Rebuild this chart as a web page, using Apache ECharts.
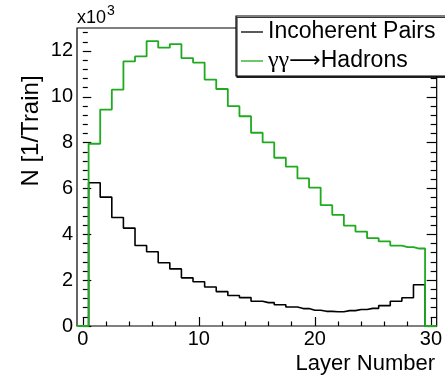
<!DOCTYPE html>
<html><head><meta charset="utf-8">
<script src="https://cdn.jsdelivr.net/npm/echarts@6/dist/echarts.min.js"></script>
<style>html,body{margin:0;padding:0;background:#fff}#c{width:445px;height:382px}</style>
</head><body><div id="c"></div>
<script>
// Layer number (bin centres) and histogram range
const layers = [0,1,2,3,4,5,6,7,8,9,10,11,12,13,14,15,16,17,18,19,20,21,22,23,24,25,26,27,28,29,30];
const xRange = [-0.5, 30.5];
// N [1/Train]
const incoherentPairs = [0, 6250, 5620, 4730, 4270, 3510, 3240, 2760, 2490, 2100, 1930, 1700, 1500, 1330, 1240, 1080, 1020, 930, 830, 760, 690, 640, 620, 670, 720, 770, 890, 1080, 1230, 1800, 0];
const ggHadrons = [0, 7950, 9440, 10310, 11540, 11760, 12430, 12140, 12300, 11690, 11490, 10750, 10340, 9590, 9150, 8430, 8010, 7340, 6950, 6440, 6040, 5270, 4850, 4380, 4120, 3830, 3690, 3510, 3440, 3380, 0];
const seriesNames = ['Incoherent Pairs', 'γγ → Hadrons'];
const xTicks = [0, 10, 20, 30];
const xMinorTicks = [2,4,6,8,12,14,16,18,22,24,26,28];
const yTicks = [0, 2000, 4000, 6000, 8000, 10000, 12000];
const yMinorTicks = [400,800,1200,1600,2400,2800,3200,3600,4400,4800,5200,5600,6400,6800,7200,7600,8400,8800,9200,9600,10400,10800,11200,11600,12400,12800];
const yMax = 13000;

function histData(vals) {
  return [[xRange[0], 0]].concat(layers.map((l, i) => [l, vals[i]])).concat([[xRange[1], 0]]);
}
const FONT = 'Liberation Sans';
const chart = echarts.init(document.getElementById('c'), null, {renderer: 'canvas'});
function xAx(ticks, len, labels) {
  return {type: 'value', min: xRange[0], max: xRange[1], position: 'bottom',
    axisLine: {show: false}, splitLine: {show: false},
    axisTick: {show: true, inside: true, length: len, customValues: ticks, lineStyle: {color: '#000', width: 1.2}},
    axisLabel: labels ? {show: true, customValues: ticks, fontSize: 20, fontFamily: FONT, color: '#000', margin: 3} : {show: false}};
}
function yAx(ticks, len, pos, labels) {
  return {type: 'value', min: 0, max: yMax, position: pos,
    axisLine: {show: false}, splitLine: {show: false},
    axisTick: {show: true, inside: true, length: len, customValues: ticks, lineStyle: {color: '#000', width: 1.2}},
    axisLabel: labels ? {show: true, customValues: ticks, fontSize: 20, fontFamily: FONT, color: '#000', margin: 4,
      formatter: v => String(v / 1000)} : {show: false}};
}
chart.setOption({
  animation: false,
  grid: {left: 77, right: 8, top: 28, bottom: 56, show: true, borderColor: '#000', borderWidth: 1.2, backgroundColor: 'transparent'},
  xAxis: [xAx(xTicks, 9, true), xAx(xMinorTicks, 4.5, false)],
  yAxis: [yAx(yTicks, 8.5, 'left', true), yAx(yMinorTicks, 5, 'left', false),
          yAx(yTicks, 10, 'right', false), yAx(yMinorTicks, 6, 'right', false)],
  legend: {
    orient: 'vertical', left: 236, top: 16, padding: [4, 15, 3, 5], itemGap: 5,
    icon: 'rect', itemWidth: 22, itemHeight: 1.3, backgroundColor: '#fff', borderColor: '#000', borderWidth: 1.2,
    shadowColor: 'rgba(0,0,0,0.8)', shadowOffsetX: 1, shadowOffsetY: 1.5, shadowBlur: 0,
    textStyle: {fontSize: 23, fontFamily: FONT, color: '#000', lineHeight: 24,
      rich: {g: {fontFamily: 'Liberation Serif', fontSize: 24, color: '#000', lineHeight: 24},
             a: {fontFamily: 'DejaVu Sans', fontSize: 22, color: '#000', lineHeight: 24}}},
    formatter: name => name === seriesNames[1] ? '{g|γγ}{a|⟶}Hadrons' : name,
    data: seriesNames
  },
  graphic: [
    {type: 'text', x: 77, y: 18, style: {text: 'x10', fontSize: 18, fontFamily: FONT, fill: '#000', align: 'left', verticalAlign: 'middle'}},
    {type: 'text', x: 107, y: 11, style: {text: '3', fontSize: 14, fontFamily: FONT, fill: '#000', align: 'left', verticalAlign: 'middle'}},
    {type: 'text', x: 435, y: 364, style: {text: 'Layer Number', fontSize: 22, fontFamily: FONT, fill: '#000', align: 'right', verticalAlign: 'middle'}},
    {type: 'text', x: 31, y: 131, rotation: Math.PI / 2, style: {text: 'N [1/Train]', fontSize: 24, fontFamily: FONT, fill: '#000', align: 'center', verticalAlign: 'middle'}}
  ],
  series: [
    {name: seriesNames[0], type: 'line', step: 'middle', symbol: 'none', xAxisIndex: 0, yAxisIndex: 0,
     data: histData(incoherentPairs), lineStyle: {color: '#000', width: 1.6}, itemStyle: {color: '#000'}, z: 2},
    {name: seriesNames[1], type: 'line', step: 'middle', symbol: 'none', xAxisIndex: 0, yAxisIndex: 0,
     data: histData(ggHadrons), lineStyle: {color: '#1faa1f', width: 1.8}, itemStyle: {color: '#1faa1f'}, z: 3}
  ]
});
</script></body></html>
